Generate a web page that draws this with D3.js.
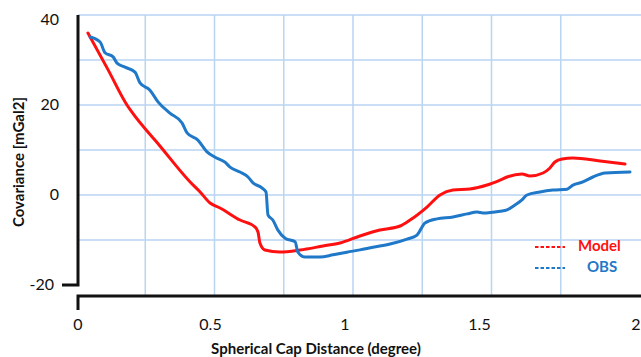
<!DOCTYPE html>
<html>
<head>
<meta charset="utf-8">
<script src="https://cdn.jsdelivr.net/npm/d3@7"></script>
<style>
  html, body { margin: 0; padding: 0; background: #fff; }
  svg { display: block; }
  text { font-family: Lato, "Open Sans", sans-serif; }
</style>
</head>
<body>
<svg id="chart" width="641" height="357"></svg>
<script>
// ---- data ----
const modelX = [0.043,0.116,0.184,0.202,0.303,0.412,0.448,0.484,0.520,0.592,0.646,0.657,0.664,0.682,0.736,0.809,0.892,0.953,1.025,1.097,1.170,1.206,1.267,1.314,1.361,1.422,1.484,1.531,1.556,1.610,1.639,1.686,1.711,1.729,1.755,1.794,1.892,1.982];
const modelY = [36.0,27.8,20.0,18.4,10.9,2.9,0.67,-1.78,-2.89,-5.56,-7.11,-8.22,-10.67,-12.22,-12.67,-12.22,-11.33,-10.67,-9.11,-7.78,-6.89,-5.56,-2.67,0.0,1.11,1.33,2.22,3.33,4.0,4.67,4.22,4.89,6.0,7.33,8.0,8.22,7.56,6.89];
const obsX = [0.051,0.087,0.105,0.134,0.148,0.177,0.213,0.231,0.267,0.296,0.339,0.383,0.401,0.440,0.473,0.502,0.538,0.556,0.592,0.621,0.639,0.671,0.686,0.693,0.711,0.729,0.755,0.791,0.801,0.827,0.881,0.928,0.978,1.025,1.072,1.134,1.195,1.231,1.260,1.303,1.361,1.412,1.448,1.469,1.531,1.556,1.585,1.610,1.628,1.675,1.722,1.773,1.794,1.830,1.866,1.910,2.0];
const obsY = [35.1,34.0,31.6,30.7,29.3,28.4,27.3,24.9,23.3,20.7,18.2,16.0,13.8,12.2,9.6,8.4,7.3,6.2,5.1,4.0,2.7,1.6,0.67,-4.4,-5.6,-7.8,-9.6,-10.4,-12.7,-13.8,-13.8,-13.3,-12.7,-12.2,-11.6,-10.9,-9.8,-8.9,-6.2,-5.3,-4.9,-4.2,-3.8,-4.0,-3.6,-3.3,-2.2,-1.1,0.0,0.67,1.1,1.3,2.2,2.9,4.0,4.9,5.1];
const xTicks = [0, 0.5, 1, 1.5, 2];
const xTickLabels = ["0", "0.5", "1", "1.5", "2"];
const xGrid = [0.25, 0.5, 0.75, 1, 1.25, 1.5, 1.75];
const yTicks = [40, 20, 0, -20];
const yGrid = [40, 30, 20, 10, 0, -10];
const seriesNames = ["Model", "OBS"];
const seriesColors = ["#ff1010", "#1f78c8"];
const xTitle = "Spherical Cap Distance (degree)";
const yTitle = "Covariance [mGal2]";

// ---- drawing ----
const svg = d3.select("#chart");
const x = d3.scaleLinear().domain([0, 2]).range([76, 630]);
const y = d3.scaleLinear().domain([-20, 40]).range([285, 15]);
const axisX = 78, axisY = 296;

// grid
const grid = svg.append("g").attr("stroke", "#b9d5f2").attr("stroke-width", 1.5);
grid.selectAll("line.h").data(yGrid).join("line")
  .attr("x1", axisX).attr("x2", 641)
  .attr("y1", d => y(d)).attr("y2", d => y(d));
grid.selectAll("line.v").data(xGrid).join("line")
  .attr("x1", d => x(d)).attr("x2", d => x(d))
  .attr("y1", y(40)).attr("y2", axisY);

// axes
const ax = svg.append("g").attr("stroke", "#111").attr("stroke-width", 3).attr("fill", "none");
ax.append("path").attr("d", `M${axisX},${y(40)} V${y(-20)} H62`);
ax.append("path").attr("d", `M${axisX},310 V${axisY} H641`);

// y tick labels
svg.append("g").selectAll("text").data(yTicks).join("text")
  .attr("x", d => d === -20 ? 54 : 59)
  .attr("y", d => y(d) + (d === 40 ? 6 : 1))
  .attr("text-anchor", "end")
  .attr("dominant-baseline", "middle")
  .attr("font-size", 16)
  .attr("fill", "#111")
  .text(d => d);

// x tick labels (the original's labels sit slightly left of the grid, last one at the edge)
svg.append("g").selectAll("text").data(xTicks).join("text")
  .attr("x", d => d === 0 ? axisX : (d === 2 ? x(d) + 6 : x(d) - 8 * d))
  .attr("y", 330)
  .attr("text-anchor", "middle")
  .attr("font-size", 16)
  .attr("fill", "#111")
  .text((d, i) => xTickLabels[i]);

// titles
svg.append("text")
  .attr("x", 316).attr("y", 354)
  .attr("text-anchor", "middle")
  .attr("font-size", 15).attr("font-weight", "bold").attr("fill", "#111")
  .text(xTitle);
svg.append("text")
  .attr("transform", "translate(24,162) rotate(-90)")
  .attr("text-anchor", "middle")
  .attr("font-size", 15).attr("font-weight", "bold").attr("fill", "#111")
  .text(yTitle);

// lines
const line = d3.line().x(d => x(d[0])).y(d => y(d[1])).curve(d3.curveMonotoneX);
const series = [d3.zip(modelX, modelY), d3.zip(obsX, obsY)];
svg.append("g").selectAll("path").data(series).join("path")
  .attr("d", line)
  .attr("fill", "none")
  .attr("stroke", (d, i) => seriesColors[i])
  .attr("stroke-width", 3)
  .attr("stroke-linejoin", "round")
  .attr("stroke-linecap", "round");

// legend
const lg = svg.append("g");
seriesNames.forEach((name, i) => {
  const ly = 247 + i * 21;
  lg.append("line")
    .attr("x1", 535).attr("x2", 565).attr("y1", ly).attr("y2", ly)
    .attr("stroke", seriesColors[i]).attr("stroke-width", 1.8)
    .attr("stroke-dasharray", "3.5,2");
  lg.append("text")
    .attr("x", i === 0 ? 578 : 587).attr("y", ly)
    .attr("dominant-baseline", "middle")
    .attr("font-size", 15).attr("font-weight", "bold")
    .attr("fill", seriesColors[i])
    .text(name);
});
</script>
</body>
</html>
